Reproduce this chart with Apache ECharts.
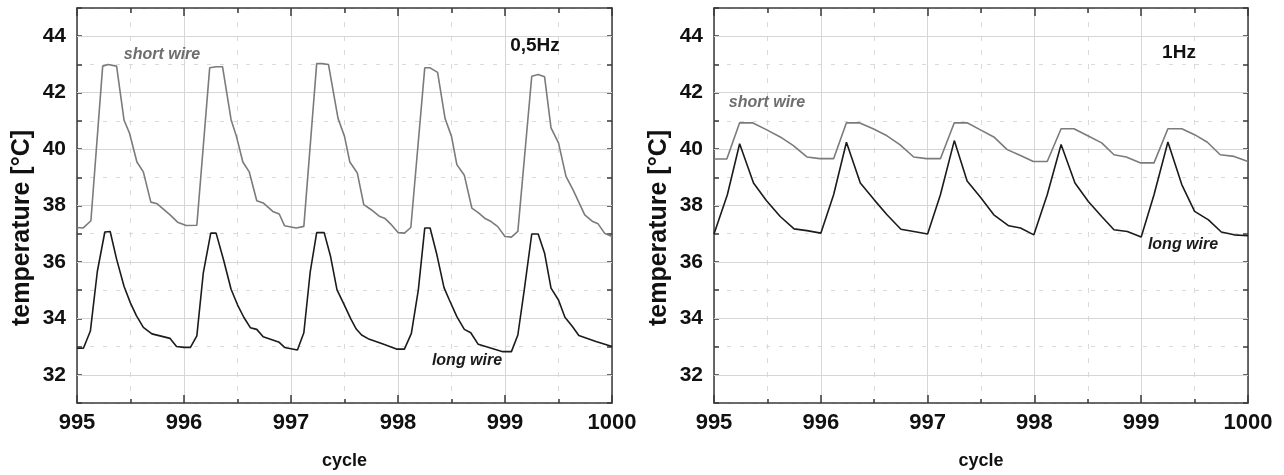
<!DOCTYPE html>
<html><head><meta charset="utf-8">
<script src="https://cdn.jsdelivr.net/npm/echarts@6/dist/echarts.min.js"></script>
<style>html,body{margin:0;padding:0;background:#fff}#c{width:1284px;height:475px}</style>
</head><body><div id="c"></div>
<script>
const panelTitles = ['0,5Hz', '1Hz'];
const seriesNames = ['short wire', 'long wire'];
const xAxisTitle = 'cycle';
const yAxisTitle = 'temperature [°C]';
const yMajorValues = [32, 34, 36, 38, 40, 42, 44];

const shortWire05Hz = [[995.0,37.22],[995.056,37.20],[995.13,37.46],[995.24,42.94],[995.29,43.0],[995.37,42.94],[995.44,41.02],[995.49,40.57],[995.56,39.54],[995.62,39.19],[995.69,38.12],[995.75,38.06],[995.87,37.67],[995.94,37.41],[996.02,37.29],[996.12,37.30],[996.24,42.88],[996.30,42.92],[996.36,42.92],[996.44,41.04],[996.49,40.45],[996.55,39.54],[996.61,39.19],[996.68,38.17],[996.74,38.09],[996.83,37.79],[996.89,37.70],[996.94,37.28],[997.05,37.20],[997.12,37.26],[997.24,43.03],[997.29,43.03],[997.35,43.0],[997.44,41.08],[997.50,40.45],[997.55,39.54],[997.62,39.15],[997.68,38.03],[997.75,37.85],[997.83,37.61],[997.875,37.55],[997.93,37.35],[998.0,37.04],[998.06,37.02],[998.12,37.22],[998.25,42.88],[998.30,42.88],[998.37,42.72],[998.44,41.08],[998.50,40.45],[998.55,39.45],[998.62,39.07],[998.69,37.91],[998.75,37.75],[998.81,37.55],[998.87,37.43],[998.93,37.26],[999.0,36.9],[999.06,36.88],[999.12,37.08],[999.25,42.58],[999.31,42.64],[999.37,42.56],[999.43,40.75],[999.50,40.22],[999.57,39.03],[999.635,38.56],[999.745,37.67],[999.82,37.43],[999.87,37.35],[999.93,37.02],[1000.0,36.9]];

const longWire05Hz = [[995.0,32.94],[995.06,32.94],[995.125,33.55],[995.19,35.66],[995.26,37.06],[995.31,37.08],[995.37,36.1],[995.44,35.13],[995.50,34.54],[995.555,34.10],[995.62,33.68],[995.70,33.45],[995.87,33.29],[995.93,33.0],[996.0,32.97],[996.06,32.97],[996.12,33.38],[996.18,35.6],[996.25,37.02],[996.30,37.02],[996.37,36.07],[996.44,35.03],[996.50,34.48],[996.56,34.03],[996.62,33.67],[996.68,33.61],[996.74,33.35],[996.89,33.15],[996.94,32.97],[997.06,32.88],[997.12,33.49],[997.18,35.66],[997.24,37.04],[997.31,37.04],[997.37,36.19],[997.43,35.01],[997.49,34.54],[997.56,33.97],[997.61,33.62],[997.66,33.41],[997.72,33.28],[997.86,33.09],[997.985,32.91],[998.06,32.91],[998.125,33.47],[998.19,35.01],[998.25,37.2],[998.30,37.2],[998.36,36.31],[998.43,35.09],[998.48,34.65],[998.55,34.06],[998.62,33.61],[998.68,33.49],[998.75,33.08],[998.98,32.82],[999.06,32.82],[999.12,33.41],[999.18,35.01],[999.25,36.99],[999.31,36.99],[999.37,36.31],[999.43,35.07],[999.50,34.65],[999.56,34.04],[999.63,33.71],[999.69,33.39],[999.85,33.18],[1000.0,33.0]];

const shortWire1Hz = [[995.0,39.65],[995.12,39.65],[995.24,40.93],[995.36,40.93],[995.49,40.69],[995.62,40.43],[995.74,40.13],[995.87,39.72],[995.99,39.66],[996.12,39.66],[996.24,40.93],[996.36,40.93],[996.49,40.72],[996.62,40.47],[996.74,40.16],[996.87,39.72],[996.99,39.66],[997.12,39.66],[997.25,40.93],[997.37,40.93],[997.49,40.69],[997.62,40.43],[997.745,39.98],[997.87,39.77],[997.99,39.56],[998.12,39.56],[998.25,40.72],[998.37,40.72],[998.50,40.47],[998.63,40.22],[998.745,39.80],[998.86,39.72],[998.995,39.51],[999.12,39.51],[999.25,40.72],[999.38,40.72],[999.50,40.51],[999.62,40.24],[999.74,39.80],[999.87,39.74],[1000.0,39.56]];

const longWire1Hz = [[995.0,36.99],[995.125,38.38],[995.24,40.19],[995.37,38.80],[995.49,38.18],[995.62,37.61],[995.75,37.17],[995.87,37.11],[996.0,37.02],[996.12,38.38],[996.24,40.24],[996.37,38.80],[996.50,38.20],[996.62,37.67],[996.75,37.16],[996.87,37.08],[997.0,36.99],[997.12,38.38],[997.25,40.30],[997.37,38.87],[997.495,38.29],[997.62,37.67],[997.76,37.28],[997.87,37.20],[997.995,36.96],[998.12,38.38],[998.25,40.16],[998.38,38.80],[998.505,38.14],[998.63,37.61],[998.745,37.14],[998.87,37.08],[999.0,36.88],[999.12,38.38],[999.25,40.25],[999.38,38.74],[999.50,37.79],[999.63,37.49],[999.75,37.06],[999.87,36.96],[1000.0,36.93]];

const FONT = "'Liberation Sans', Arial, Helvetica, sans-serif";
const AX = '#3a3a3a';
const chart = echarts.init(document.getElementById('c'), null, {renderer: 'canvas'});

function xAxesFor(gi) {
  return [
    {gridIndex: gi, type: 'value', position: 'bottom', min: 995, max: 1000, interval: 1,
     name: xAxisTitle, nameLocation: 'middle', nameGap: 49,
     nameTextStyle: {fontFamily: FONT, fontSize: 18, fontWeight: 'bold', color: '#111'},
     axisLine: {lineStyle: {color: AX, width: 1.5}},
     axisTick: {inside: true, length: 8, lineStyle: {color: AX, width: 1.5}},
     minorTick: {show: true, splitNumber: 2, length: 4, lineStyle: {color: AX, width: 1.5}},
     axisLabel: {fontFamily: FONT, fontSize: 22, fontWeight: 'bold', color: '#111', margin: 9,
       formatter: v => String(v)},
     splitLine: {show: true, lineStyle: {color: '#d6d6d6', width: 1}},
     minorSplitLine: {show: true, lineStyle: {color: '#dadada', width: 1, type: [5, 9]}}},
    {gridIndex: gi, type: 'value', position: 'top', min: 995, max: 1000, interval: 1,
     axisLine: {lineStyle: {color: AX, width: 1.5}},
     axisTick: {inside: true, length: 8, lineStyle: {color: AX, width: 1.5}},
     minorTick: {show: true, splitNumber: 2, length: 5, lineStyle: {color: AX, width: 1.5}},
     axisLabel: {show: false}, splitLine: {show: false}}
  ];
}
function yAxesFor(gi) {
  return [
    {gridIndex: gi, type: 'value', position: 'left', min: 31, max: 45, interval: 1,
     axisLine: {show: true, lineStyle: {color: AX, width: 1.5}},
     axisTick: {show: true, inside: true, length: 5, lineStyle: {color: AX, width: 1.5}},
     axisLabel: {fontFamily: FONT, fontSize: 21, fontWeight: 'bold', color: '#111', margin: 11,
       formatter: v => (yMajorValues.indexOf(v) >= 0 ? String(v) : '')},
     splitLine: {show: true, lineStyle: {color: '#dadada', width: 1, type: [4, 9]}}},
    {gridIndex: gi, type: 'value', position: 'right', min: 31, max: 45, interval: 1,
     axisLine: {show: true, lineStyle: {color: AX, width: 1.5}},
     axisTick: {show: true, inside: true, length: 5, lineStyle: {color: AX, width: 1.5}},
     axisLabel: {show: false}, splitLine: {show: false}}
  ];
}

function gridMajor(gi) {
  return {type: 'line', xAxisIndex: gi * 2, yAxisIndex: gi * 2, data: [], z: 1, silent: true,
    markLine: {silent: true, z: 1, symbol: ['none', 'none'], label: {show: false}, animation: false,
      lineStyle: {color: '#d6d6d6', width: 1, type: 'solid'},
      data: yMajorValues.map(v => ({yAxis: v}))}};
}
function wire(gi, name, data, color) {
  return {type: 'line', name: name, xAxisIndex: gi * 2, yAxisIndex: gi * 2, data: data,
    showSymbol: false, symbol: 'none', z: 3, lineStyle: {color: color, width: 1.6}};
}

const GREY = '#7b7b7b', BLACK = '#1b1b1b';
const annot = (x, y, text, opts) => ({type: 'text', x: x, y: y, z: 10,
  style: Object.assign({text: text, align: 'center', verticalAlign: 'middle', fontFamily: FONT}, opts)});

chart.setOption({
  animation: false,
  backgroundColor: '#ffffff',
  grid: [
    {left: 77, right: 672, top: 8, bottom: 72},
    {left: 714, right: 36, top: 8, bottom: 72}
  ],
  xAxis: xAxesFor(0).concat(xAxesFor(1)),
  yAxis: yAxesFor(0).concat(yAxesFor(1)),
  series: [
    gridMajor(0), gridMajor(1),
    wire(0, seriesNames[0], shortWire05Hz, GREY),
    wire(0, seriesNames[1], longWire05Hz, BLACK),
    wire(1, seriesNames[0], shortWire1Hz, GREY),
    wire(1, seriesNames[1], longWire1Hz, BLACK)
  ],
  graphic: [
    annot(22.5, 228, yAxisTitle, {fontSize: 25, fontWeight: 'bold', fill: '#111'}),
    annot(659.5, 228, yAxisTitle, {fontSize: 25, fontWeight: 'bold', fill: '#111'}),
    annot(162, 55, seriesNames[0], {fontSize: 16, fontWeight: 'bold', fontStyle: 'italic', fill: '#6e6e6e'}),
    annot(467, 361, seriesNames[1], {fontSize: 16, fontWeight: 'bold', fontStyle: 'italic', fill: '#1b1b1b'}),
    annot(535, 46, panelTitles[0], {fontSize: 19, fontWeight: 'bold', fill: '#111'}),
    annot(767, 103, seriesNames[0], {fontSize: 16, fontWeight: 'bold', fontStyle: 'italic', fill: '#6e6e6e'}),
    annot(1183, 245, seriesNames[1], {fontSize: 16, fontWeight: 'bold', fontStyle: 'italic', fill: '#1b1b1b'}),
    annot(1179, 53, panelTitles[1], {fontSize: 19, fontWeight: 'bold', fill: '#111'})
  ].map((g, i) => (i < 2 ? Object.assign(g, {rotation: Math.PI / 2}) : g))
});
</script></body></html>
